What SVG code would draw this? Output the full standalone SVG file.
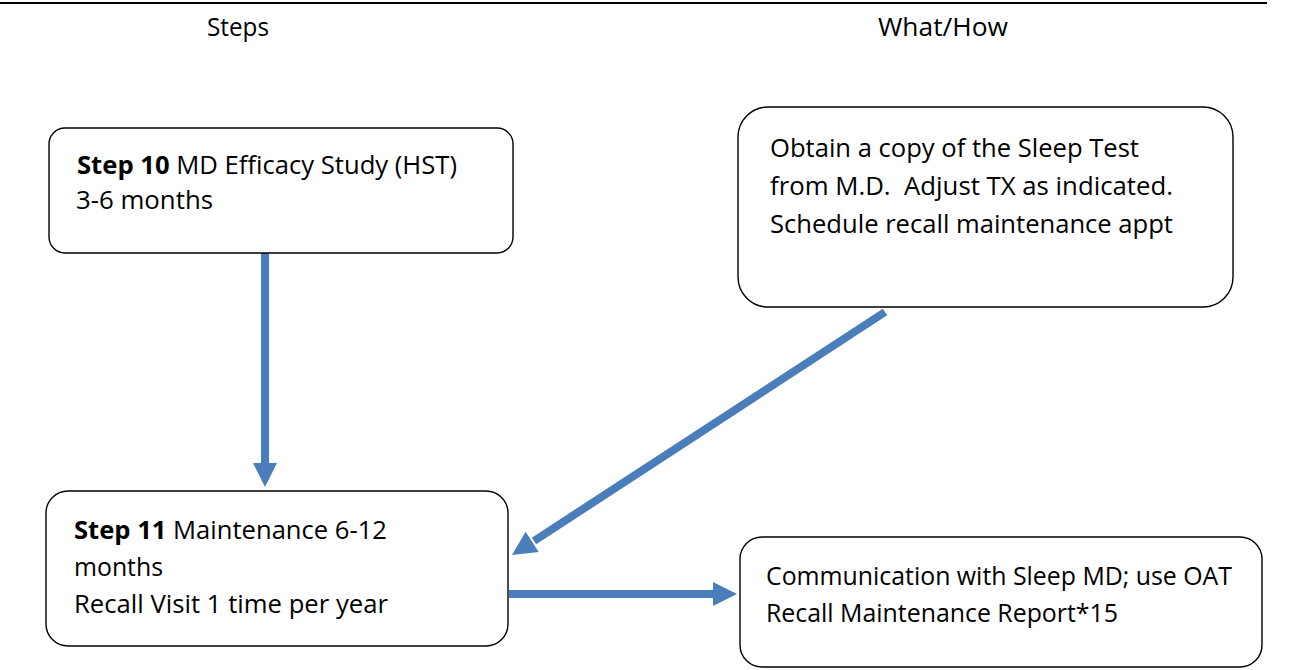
<svg xmlns="http://www.w3.org/2000/svg" width="1315" height="670" viewBox="0 0 1315 670">
<style>
.box{fill:#fff;stroke:#000;stroke-width:1.4}
.t{font-family:"Open Sans","Liberation Sans",sans-serif;font-size:25px;fill:#000}
.b{font-weight:bold}
.conn{stroke:#4A7EBB;stroke-width:8;fill:none}
.head{fill:#4A7EBB}
</style>
<rect width="1315" height="670" fill="#fff"/>
<g id="header">
<line x1="0" y1="3" x2="1267" y2="3" stroke="#000" stroke-width="2"/>
<text class="t" x="238" y="36" text-anchor="middle" textLength="62" lengthAdjust="spacingAndGlyphs">Steps</text>
<text class="t" x="943" y="36" text-anchor="middle" textLength="130" lengthAdjust="spacingAndGlyphs">What/How</text>
</g>
<g id="connectors">
<line class="conn" x1="265" y1="253" x2="265" y2="465"/>
<polygon class="head" points="253,463 277,463 265,487"/>
<line class="conn" x1="885" y1="312" x2="534" y2="541"/>
<polygon class="head" points="525.6,531.8 538.7,552 512,555"/>
<line class="conn" x1="509" y1="594" x2="715" y2="594"/>
<polygon class="head" points="713,582 713,606 737,594"/>
</g>
<g id="step10">
<rect class="box" x="49" y="128" width="464" height="125" rx="16"/>
<text class="t" x="77" y="174" textLength="380" lengthAdjust="spacingAndGlyphs"><tspan class="b">Step 10</tspan> MD Efficacy Study (HST)</text>
<text class="t" x="76" y="209" textLength="137" lengthAdjust="spacingAndGlyphs">3-6 months</text>
</g>
<g id="obtain">
<rect class="box" x="738" y="107" width="495" height="200" rx="30"/>
<text class="t" x="770" y="157" textLength="369" lengthAdjust="spacingAndGlyphs">Obtain a copy of the Sleep Test</text>
<text class="t" x="770" y="195" xml:space="preserve" textLength="403" lengthAdjust="spacingAndGlyphs">from M.D.  Adjust TX as indicated.</text>
<text class="t" x="770" y="233" textLength="403" lengthAdjust="spacingAndGlyphs">Schedule recall maintenance appt</text>
</g>
<g id="step11">
<rect class="box" x="46" y="491" width="462" height="155" rx="22"/>
<text class="t" x="74" y="539" textLength="313" lengthAdjust="spacingAndGlyphs"><tspan class="b">Step 11</tspan> Maintenance 6-12</text>
<text class="t" x="74" y="576" textLength="89" lengthAdjust="spacingAndGlyphs">months</text>
<text class="t" x="74" y="613" textLength="314" lengthAdjust="spacingAndGlyphs">Recall Visit 1 time per year</text>
</g>
<g id="communication">
<rect class="box" x="740" y="537" width="522" height="130" rx="22"/>
<text class="t" x="766" y="585" textLength="466" lengthAdjust="spacingAndGlyphs">Communication with Sleep MD; use OAT</text>
<text class="t" x="766" y="622" textLength="352" lengthAdjust="spacingAndGlyphs">Recall Maintenance Report*15</text>
</g>
</svg>
